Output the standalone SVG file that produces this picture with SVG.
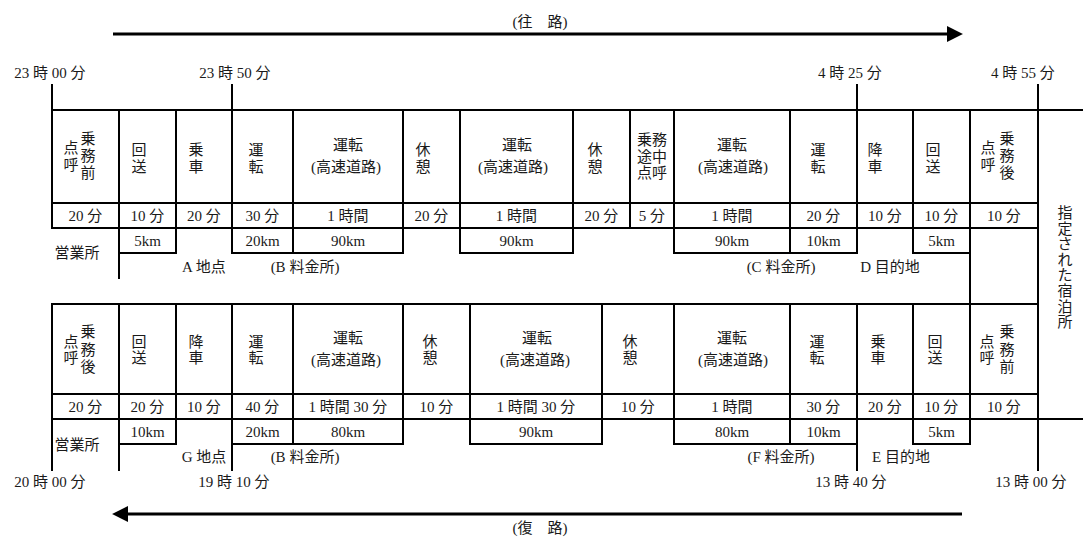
<svg xmlns="http://www.w3.org/2000/svg" width="1083" height="539" viewBox="0 0 1083 539">
<style>
.g{stroke:#000;stroke-width:2;fill:none;stroke-linecap:square}
.ar{stroke:#000;stroke-width:3;fill:none}
text{font-family:"Liberation Serif","Noto Sans CJK JP",serif;font-size:15px;fill:#1a1a1a}
.m{text-anchor:middle}
</style>
<defs>
<marker id="ah" markerUnits="userSpaceOnUse" markerWidth="16" markerHeight="16" viewBox="0 0 15 15" refX="1" refY="7.5" orient="auto">
<path d="M0,0 L15,7.5 L0,15 Z" fill="#000"/>
</marker>
</defs>
<rect width="1083" height="539" fill="#fff"/>

<g id="connectors">
<line class="ar" x1="113" y1="34" x2="948" y2="34" marker-end="url(#ah)"/>
<line class="ar" x1="962" y1="514" x2="127" y2="514" marker-end="url(#ah)"/>
<path class="g" d="M52,110 H1083 M52,203 H1038 M52,228 H1038 M52,85 V228 M119,110 V278 M176,110 V253 M232,85 V253 M293,110 V253 M403,110 V253 M460,110 V253 M573,110 V253 M630,110 V228 M674,110 V253 M790,110 V253 M857,85 V253 M913,110 V253 M970,110 V444 M1038,85 V470 M119,253 H176 M232,253 H403 M460,253 H573 M674,253 H857 M913,253 H970"/>
<path class="g" d="M52,304 H1038 M52,394 H1038 M52,419 H1083 M52,304 V470 M119,304 V470 M176,304 V444 M232,304 V470 M293,304 V444 M403,304 V444 M470,304 V444 M602,304 V444 M674,304 V444 M790,304 V444 M857,304 V470 M913,304 V444 M119,444 H176 M232,444 H403 M470,444 H602 M674,444 H857 M913,444 H970"/>
</g>

<g id="titles">
<text class="m" x="540" y="27">(往　路)</text>
<text class="m" x="540" y="533">(復　路)</text>
</g>

<g id="times">
<text class="m" x="50" y="78">23 時 00 分</text>
<text class="m" x="235" y="78">23 時 50 分</text>
<text class="m" x="850" y="78">4 時 25 分</text>
<text class="m" x="1023" y="78">4 時 55 分</text>
<text class="m" x="50" y="487">20 時 00 分</text>
<text class="m" x="234" y="487">19 時 10 分</text>
<text class="m" x="851" y="487">13 時 40 分</text>
<text class="m" x="1031" y="487">13 時 00 分</text>
</g>

<g id="outbound-cells">
<text class="m"><tspan x="88" y="144">乗</tspan><tspan x="88" y="161">務</tspan><tspan x="88" y="178">前</tspan><tspan x="71" y="153">点</tspan><tspan x="71" y="170">呼</tspan></text>
<text class="m"><tspan x="139" y="155">回</tspan><tspan x="139" y="172">送</tspan></text>
<text class="m"><tspan x="196" y="155">乗</tspan><tspan x="196" y="172">車</tspan></text>
<text class="m"><tspan x="256" y="155">運</tspan><tspan x="256" y="172">転</tspan></text>
<text class="m"><tspan x="348" y="150">運転</tspan><tspan x="346" y="172">(高速道路)</tspan></text>
<text class="m"><tspan x="423" y="155">休</tspan><tspan x="423" y="172">憩</tspan></text>
<text class="m"><tspan x="517" y="150">運転</tspan><tspan x="513" y="172">(高速道路)</tspan></text>
<text class="m"><tspan x="595" y="155">休</tspan><tspan x="595" y="172">憩</tspan></text>
<text class="m"><tspan x="652" y="145">乗務</tspan><tspan x="652" y="162">途中</tspan><tspan x="652" y="178">点呼</tspan></text>
<text class="m"><tspan x="732" y="150">運転</tspan><tspan x="733" y="172">(高速道路)</tspan></text>
<text class="m"><tspan x="818" y="155">運</tspan><tspan x="818" y="172">転</tspan></text>
<text class="m"><tspan x="875" y="155">降</tspan><tspan x="875" y="172">車</tspan></text>
<text class="m"><tspan x="933" y="155">回</tspan><tspan x="933" y="172">送</tspan></text>
<text class="m"><tspan x="1007" y="144">乗</tspan><tspan x="1007" y="161">務</tspan><tspan x="1007" y="178">後</tspan><tspan x="988" y="153">点</tspan><tspan x="988" y="170">呼</tspan></text>
</g>

<g id="outbound-durations">
<text class="m" x="85.5" y="221">20 分</text>
<text class="m" x="147.5" y="221">10 分</text>
<text class="m" x="204" y="221">20 分</text>
<text class="m" x="262.5" y="221">30 分</text>
<text class="m" x="348" y="221">1 時間</text>
<text class="m" x="431.5" y="221">20 分</text>
<text class="m" x="516.5" y="221">1 時間</text>
<text class="m" x="601.5" y="221">20 分</text>
<text class="m" x="652" y="221">5 分</text>
<text class="m" x="732" y="221">1 時間</text>
<text class="m" x="823.5" y="221">20 分</text>
<text class="m" x="885" y="221">10 分</text>
<text class="m" x="941.5" y="221">10 分</text>
<text class="m" x="1004" y="221">10 分</text>
</g>

<g id="outbound-distances">
<text class="m" x="147.5" y="246">5km</text>
<text class="m" x="262.5" y="246">20km</text>
<text class="m" x="348" y="246">90km</text>
<text class="m" x="516.5" y="246">90km</text>
<text class="m" x="732" y="246">90km</text>
<text class="m" x="823.5" y="246">10km</text>
<text class="m" x="941.5" y="246">5km</text>
</g>

<g id="outbound-places">
<text class="m" x="77" y="258">営業所</text>
<text class="m" x="204" y="272">A 地点</text>
<text class="m" x="305" y="272">(B 料金所)</text>
<text class="m" x="781" y="272">(C 料金所)</text>
<text class="m" x="890" y="272">D 目的地</text>
</g>

<g id="lodging">
<text class="m"><tspan x="1065" y="218">指</tspan><tspan x="1065" y="233.6">定</tspan><tspan x="1065" y="249.2">さ</tspan><tspan x="1065" y="264.8">れ</tspan><tspan x="1065" y="280.4">た</tspan><tspan x="1065" y="296">宿</tspan><tspan x="1065" y="311.6">泊</tspan><tspan x="1065" y="327.2">所</tspan></text>
</g>

<g id="return-cells">
<text class="m"><tspan x="88" y="337">乗</tspan><tspan x="88" y="355">務</tspan><tspan x="88" y="372">後</tspan><tspan x="71" y="347">点</tspan><tspan x="71" y="363">呼</tspan></text>
<text class="m"><tspan x="139" y="347">回</tspan><tspan x="139" y="363">送</tspan></text>
<text class="m"><tspan x="196" y="347">降</tspan><tspan x="196" y="363">車</tspan></text>
<text class="m"><tspan x="256" y="347">運</tspan><tspan x="256" y="363">転</tspan></text>
<text class="m"><tspan x="348" y="343">運転</tspan><tspan x="346" y="365">(高速道路)</tspan></text>
<text class="m"><tspan x="430" y="347">休</tspan><tspan x="430" y="363">憩</tspan></text>
<text class="m"><tspan x="537" y="343">運転</tspan><tspan x="535" y="365">(高速道路)</tspan></text>
<text class="m"><tspan x="630" y="347">休</tspan><tspan x="630" y="363">憩</tspan></text>
<text class="m"><tspan x="732" y="343">運転</tspan><tspan x="733" y="365">(高速道路)</tspan></text>
<text class="m"><tspan x="817" y="347">運</tspan><tspan x="817" y="363">転</tspan></text>
<text class="m"><tspan x="878" y="347">乗</tspan><tspan x="878" y="363">車</tspan></text>
<text class="m"><tspan x="935" y="347">回</tspan><tspan x="935" y="363">送</tspan></text>
<text class="m"><tspan x="1007" y="337">乗</tspan><tspan x="1007" y="355">務</tspan><tspan x="1007" y="372">前</tspan><tspan x="987" y="347">点</tspan><tspan x="987" y="363">呼</tspan></text>
</g>

<g id="return-durations">
<text class="m" x="85.5" y="412">20 分</text>
<text class="m" x="147.5" y="412">20 分</text>
<text class="m" x="204" y="412">10 分</text>
<text class="m" x="262.5" y="412">40 分</text>
<text class="m" x="348" y="412">1 時間 30 分</text>
<text class="m" x="436.5" y="412">10 分</text>
<text class="m" x="536" y="412">1 時間 30 分</text>
<text class="m" x="638" y="412">10 分</text>
<text class="m" x="732" y="412">1 時間</text>
<text class="m" x="823.5" y="412">30 分</text>
<text class="m" x="885" y="412">20 分</text>
<text class="m" x="941.5" y="412">10 分</text>
<text class="m" x="1004" y="412">10 分</text>
</g>

<g id="return-distances">
<text class="m" x="147.5" y="437">10km</text>
<text class="m" x="262.5" y="437">20km</text>
<text class="m" x="348" y="437">80km</text>
<text class="m" x="536" y="437">90km</text>
<text class="m" x="732" y="437">80km</text>
<text class="m" x="823.5" y="437">10km</text>
<text class="m" x="941.5" y="437">5km</text>
</g>

<g id="return-places">
<text class="m" x="77" y="450">営業所</text>
<text class="m" x="204" y="462">G 地点</text>
<text class="m" x="305" y="462">(B 料金所)</text>
<text class="m" x="781" y="462">(F 料金所)</text>
<text class="m" x="901" y="462">E 目的地</text>
</g>
</svg>
